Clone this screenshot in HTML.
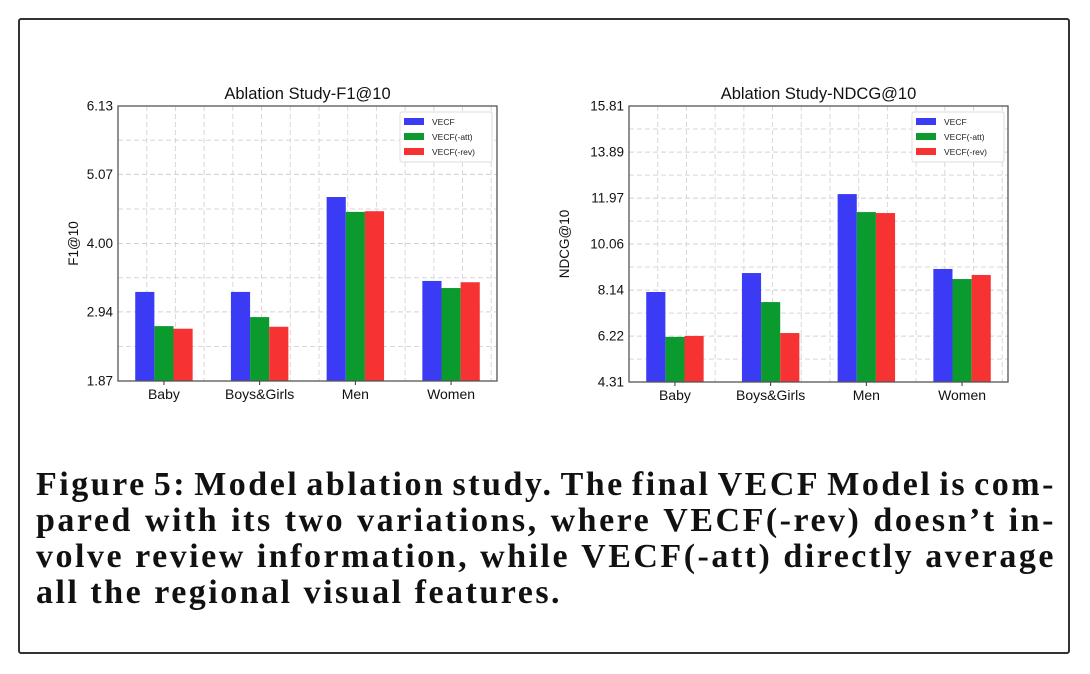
<!DOCTYPE html>
<html><head><meta charset="utf-8"><style>
html,body{margin:0;padding:0;background:#fff;}
body{width:1090px;height:674px;position:relative;overflow:hidden;font-family:"Liberation Sans",sans-serif;}
#frame{position:absolute;left:18px;top:18px;width:1052px;height:636px;border:2px solid #333;border-radius:3px;box-sizing:border-box;}
#cap{position:absolute;left:36px;top:467px;width:1020px;font-family:"Liberation Serif",serif;font-weight:bold;font-size:34px;line-height:36px;color:#111;letter-spacing:2.5px;}
#cap div{white-space:nowrap;height:36px;}
</style></head><body>
<div id="frame"></div>
<svg id="svg" width="1090" height="674" style="position:absolute;left:0;top:0"></svg>
<div id="cap">
<div style="display:flex;justify-content:space-between"><span>Figure</span><span>5:</span><span>Model</span><span>ablation</span><span>study.</span><span>The</span><span>final</span><span>VECF</span><span>Model</span><span>is</span><span>com-</span></div>
<div style="display:flex;justify-content:space-between"><span>pared</span><span>with</span><span>its</span><span>two</span><span>variations,</span><span>where</span><span>VECF(-rev)</span><span>doesn’t</span><span>in-</span></div>
<div style="display:flex;justify-content:space-between"><span>volve</span><span>review</span><span>information,</span><span>while</span><span>VECF(-att)</span><span>directly</span><span>average</span></div>
<div>all the regional visual features.</div>
</div>
<script>
const categories=["Baby","Boys&Girls","Men","Women"];
const seriesNames=["VECF","VECF(-att)","VECF(-rev)"];
const f1VECF=[3.25,3.25,4.72,3.42];
const f1Att=[2.72,2.86,4.49,3.31];
const f1Rev=[2.68,2.71,4.50,3.40];
const f1Ticks=[1.87,2.94,4.00,5.07,6.13];
const ndcgVECF=[8.06,8.85,12.14,9.02];
const ndcgAtt=[6.19,7.64,11.39,8.60];
const ndcgRev=[6.23,6.35,11.35,8.77];
const ndcgTicks=[4.31,6.22,8.14,10.06,11.97,13.89,15.81];
const colors=["#3b3bf5","#0a9a2e","#f73232"];
const NS="http://www.w3.org/2000/svg";
const svg=document.getElementById('svg');
function mk(tag,attrs,parent){const e=document.createElementNS(NS,tag);for(const k in attrs)e.setAttribute(k,attrs[k]);(parent||svg).appendChild(e);return e;}
function chart(o){
  const g=mk('g',{});
  
  
  const L=o.x0,R=o.x1,T=o.y0,B=o.y1;
  const ymin=o.ticks[0],ymax=o.ticks[o.ticks.length-1];
  const y=v=>B-(v-ymin)/(ymax-ymin)*(B-T);
  const n=categories.length;
  const xs=i=>L+(i+0.48)/(n-1+0.96)*(R-L);
  const unit=(R-L)/(n-1+0.96);
  for(let i=0;i<o.ticks.length;i++){
    const yy=y(o.ticks[i]);
    const gl=mk('line',{x1:L,x2:R,y1:yy,y2:yy,stroke:'#d0d0d0','stroke-dasharray':'5,3','stroke-width':1},g);
    
    if(i<o.ticks.length-1){const ym=y((o.ticks[i]+o.ticks[i+1])/2);
      const gm=mk('line',{x1:L,x2:R,y1:ym,y2:ym,stroke:'#d8d8d8','stroke-dasharray':'5,3','stroke-width':1},g);
      }
    const t=mk('text',{x:L-5,y:yy+4.5,'text-anchor':'end','font-size':13.5,fill:'#111'},g);
    t.textContent=o.ticks[i].toFixed(2);
    
  }
  for(let k=-1;k<=n*3;k++){const xx=xs(0)+k*unit*0.3-unit*0.3*0.6;
    if(xx<=L+2||xx>=R-2)continue;
    const vl=mk('line',{x1:xx,x2:xx,y1:T,y2:B,stroke:'#d8d8d8','stroke-dasharray':'5,3'},g);
    }
  const series=o.series;
  const bw=unit*0.2;
  for(let s=0;s<3;s++)for(let i=0;i<n;i++){
    const cx=xs(i)+(s-1)*bw;
    const r=mk('rect',{x:cx-bw/2,y:y(series[s][i]),width:bw,height:B-y(series[s][i]),fill:colors[s]},g);
    
    
  }
  for(let i=0;i<n;i++){
    const t=mk('text',{x:xs(i),y:B+18,'text-anchor':'middle','font-size':14,fill:'#111'},g);
    t.textContent=categories[i];
    
    mk('line',{x1:xs(i),x2:xs(i),y1:B,y2:B+4,stroke:'#333'},g);
  }
  const fr=mk('rect',{x:L,y:T,width:R-L,height:B-T,fill:'none',stroke:'#555','stroke-width':1.3},g);
  
  const tt=mk('text',{x:(L+R)/2,y:T-7,'text-anchor':'middle','font-size':16.5,fill:'#111'},g);
  tt.textContent=o.title;
  const yl=mk('text',{x:0,y:0,'text-anchor':'middle','font-size':13.5,fill:'#111',transform:`translate(${o.ylx},${(T+B)/2}) rotate(-90)`},g);
  yl.textContent=o.ylabel;
  const lg=mk('g',{},g);
  
  mk('rect',{x:o.lx,y:T+6,width:92,height:50,fill:'#fff',stroke:'#ddd',rx:2},lg);
  for(let s=0;s<3;s++){
    const e=mk('g',{},lg);
    
    mk('rect',{x:o.lx+4,y:T+12+s*15,width:20,height:7,fill:colors[s]},e);
    const t=mk('text',{x:o.lx+32,y:T+19+s*15,'font-size':8.5,fill:'#222'},e);t.textContent=seriesNames[s];
  }
}
chart({name:'f1-chart',x0:118,x1:497,y0:106,y1:381,ticks:f1Ticks,series:[f1VECF,f1Att,f1Rev],title:'Ablation Study-F1@10',ylabel:'F1@10',ylx:78,lx:400});
chart({name:'ndcg-chart',x0:629,x1:1008,y0:106,y1:382,ticks:ndcgTicks,series:[ndcgVECF,ndcgAtt,ndcgRev],title:'Ablation Study-NDCG@10',ylabel:'NDCG@10',ylx:569,lx:912});
</script>
</body></html>
